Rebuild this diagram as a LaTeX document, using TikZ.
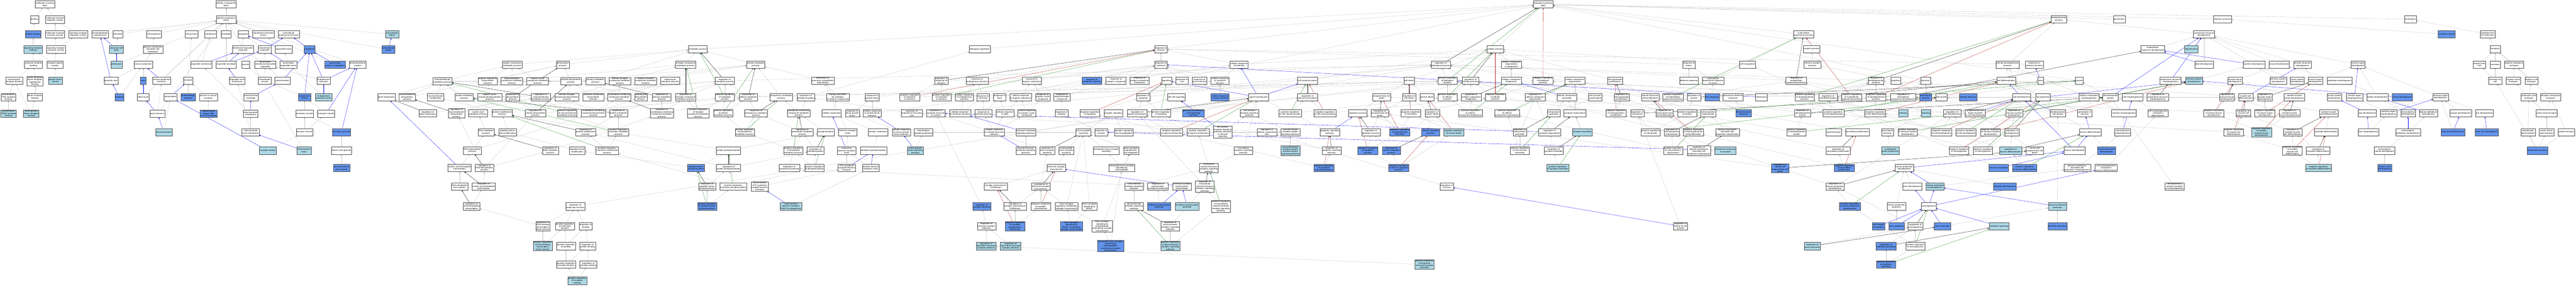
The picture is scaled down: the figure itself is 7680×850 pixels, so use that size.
\documentclass[tikz,border=0pt]{standalone}
\usepackage{fontspec}
\newfontfamily\gofam[FakeStretch=1.15]{Liberation Sans}
\usetikzlibrary{arrows.meta}
\definecolor{cblue}{HTML}{6495ED}
\definecolor{lblue}{HTML}{ADD8E6}
\definecolor{edgegray}{HTML}{C4C4C4}
\definecolor{fgreen}{HTML}{228B22}
\definecolor{fred}{HTML}{B22222}
\pgfdeclarelayer{bg}
\pgfsetlayers{bg,main}
\tikzset{go node/.style={rectangle,draw=black!70,line width=.6pt,fill=white,align=center,font=\gofam\fontsize{5.8}{6.8}\selectfont,inner xsep=1.5pt,inner ysep=1pt,minimum height=22pt},
dark node/.style={go node,fill=cblue},
light node/.style={go node,fill=lblue},
is a/.style={draw=edgegray,line width=.5pt,-{Triangle[length=4pt,width=3pt]}},
part of/.style={is a,draw=blue},
regulates/.style={is a,draw=black},
pos reg/.style={is a,draw=fgreen},
neg reg/.style={is a,draw=fred},
}

\begin{document}
\begin{tikzpicture}[x=1pt,y=-1pt]
\useasboundingbox (0,0) rectangle (7680,850);
% molecular function
\node[go node] (mf) at (134,13) {molecular\_function\\Bdnf};
\node[go node] (binding) at (103,58) {binding};
\node[go node] (mfreg) at (164,58) {molecular function\\regulator activity};
\node[dark node] (protbind) at (99,102) {protein binding};
\node[go node] (mfact) at (164,102) {molecular function\\activator activity};
\node[go node] (srreg) at (233,102) {signaling receptor\\regulator activity};
\node[light node] (srbind) at (99,147) {signaling receptor\\binding};
\node[go node] (sract) at (167,147) {signaling receptor\\activator activity};
\node[go node] (cytok) at (100,192) {cytokine receptor\\binding};
\node[go node] (rla) at (164,192) {receptor ligand\\activity};
\node[go node] (ntrb) at (42,240) {neurotrophin\\receptor binding};
\node[go node] (tnf) at (104,241) {tumor necrosis\\factor receptor\\superfamily\\binding};
\node[light node] (gfa) at (165,240) {growth factor\\activity};
\node[go node] (trk) at (25,289) {neurotrophin\\TRK receptor\\binding};
\node[go node] (drb) at (104,289) {death receptor\\binding};
\node[light node] (trkb) at (25,338) {neurotrophin\\TRKB receptor\\binding};
\node[light node] (ngfrb) at (93,338) {nerve growth\\factor receptor\\binding};
% cellular component
\node[go node] (cc) at (674,13) {cellular\_component\\Bdnf};
\node[go node] (cae) at (674,58) {cellular anatomical\\entity};
\node[go node] (sdc) at (298,102) {somatodendritic\\compartment};
\node[go node] (cbody) at (351,102) {cell body};
\node[go node] (cproj) at (459,102) {cell projection};
\node[go node] (cjunc) at (571,102) {cell junction};
\node[go node] (memb) at (628,102) {membrane};
\node[go node] (env) at (674,102) {envelope};
\node[go node] (org) at (725,102) {organelle};
\node[go node] (mel) at (785,102) {membrane-enclosed\\lumen};
\node[go node] (ias) at (861,102) {intracellular\\anatomical structure};
\node[light node] (ecr) at (1169,102) {extracellular\\region};
\node[light node] (ncb) at (347,147) {neuronal cell\\body};
\node[go node] (pmbcp) at (456,147) {plasma membrane\\bounded cell\\projection};
\node[go node] (mbo) at (724,147) {membrane-bounded\\organelle};
\node[go node] (io) at (789,147) {intracellular\\organelle};
\node[go node] (ol) at (846,147) {organelle lumen};
\node[dark node] (cyto) at (923,147) {cytoplasm};
\node[dark node] (ecs) at (1158,147) {extracellular\\space};
\node[light node] (peri) at (347,192) {perikaryon};
\node[go node] (nproj) at (427,192) {neuron projection};
\node[go node] (orgmem) at (600,192) {organelle membrane};
\node[go node] (orgenv) at (674,192) {organelle envelope};
\node[go node] (vesicle) at (732,192) {vesicle};
\node[go node] (imbo) at (791,192) {intracellular\\membrane-bounded\\organelle};
\node[go node] (iol) at (860,192) {intracellular\\organelle lumen};
\node[dark node] (prc) at (999,192) {perinuclear\\region of cytoplasm};
\node[go node] (ems) at (1066,192) {endomembrane\\system};
\node[go node] (dtree) at (331,240) {dendritic tree};
\node[dark node] (axon) at (427,240) {axon};
\node[go node] (npt) at (482,240) {neuron projection\\terminus};
\node[go node] (synapse) at (561,240) {synapse};
\node[go node] (oim) at (707,240) {organelle inner\\membrane};
\node[go node] (iv) at (789,240) {intracellular\\vesicle};
\node[go node] (mito) at (842,240) {mitochondrion};
\node[go node] (er) at (965,240) {endoplasmic\\reticulum};
\node[dark node] (dendrite) at (356,289) {dendrite};
\node[go node] (daxon) at (427,289) {distal axon};
\node[go node] (presyn) at (508,289) {presynapse};
\node[dark node] (glut) at (561,289) {glutamatergic\\synapse};
\node[go node] (n2n) at (621,289) {neuron to neuron\\synapse};
\node[go node] (mitoenv) at (748,289) {mitochondrial\\envelope};
\node[dark node] (cv) at (908,289) {cytoplasmic\\vesicle};
\node[light node] (erl) at (965,289) {endoplasmic\\reticulum lumen};
\node[go node] (axterm) at (469,338) {axon terminus};
\node[dark node] (hmf) at (622,338) {hippocampal\\mossy fiber\\to CA3 synapse};
\node[go node] (mitomem) at (747,338) {mitochondrial\\membrane};
\node[go node] (secv) at (908,338) {secretory vesicle};
\node[go node] (tv) at (972,338) {transport vesicle};
\node[light node] (tbouton) at (489,393) {terminal bouton};
\node[go node] (mim) at (747,393) {mitochondrial\\inner membrane};
\node[go node] (exov) at (908,393) {exocytic vesicle};
\node[dark node] (secg) at (1018,393) {secretory granule};
\node[light node] (synves) at (798,448) {synaptic vesicle};
\node[light node] (crista) at (906,448) {mitochondrial\\crista};
\node[go node] (dcg) at (1018,448) {dense core granule};
\node[dark node] (ndcv) at (1018,500) {neuronal dense\\core vesicle};
% biological process: metabolism
\node[go node] (osmp) at (1527,192) {organic substance\\metabolic process};
\node[go node] (biosyn) at (1678,192) {biosynthetic\\process};
\node[go node] (mmp) at (1319,241) {macromolecule\\metabolic process};
\node[go node] (osbp) at (1454,241) {organic substance\\biosynthetic\\process};
\node[go node] (onmp) at (1526,241) {organonitrogen\\compound metabolic\\process};
\node[go node] (occmp) at (1603,241) {organic cyclic\\compound metabolic\\process};
\node[go node] (cbp) at (1702,241) {cellular biosynthetic\\process};
\node[go node] (pmp) at (1775,241) {primary metabolic\\process};
\node[go node] (cncmp) at (1848,241) {cellular nitrogen\\compound metabolic\\process};
\node[go node] (acmp) at (1925,241) {cellular aromatic\\compound metabolic\\process};
\node[go node] (ge) at (1152,289) {gene expression};
\node[go node] (mbp) at (1214,289) {macromolecule\\biosynthetic\\process};
\node[go node] (mmod) at (1298,289) {macromolecule\\modification};
\node[go node] (pmetp) at (1384,289) {protein metabolic\\process};
\node[go node] (occbp) at (1460,289) {organic cyclic\\compound biosynthetic\\process};
\node[go node] (rbiosyn) at (1529,289) {regulation of\\biosynthetic\\process};
\node[go node] (rmmp) at (1613,289) {regulation of\\macromolecule\\metabolic process};
\node[go node] (cncbp) at (1690,289) {cellular nitrogen\\compound biosynthetic\\process};
\node[go node] (acbp) at (1769,289) {aromatic compound\\biosynthetic\\process};
\node[go node] (nbcmp) at (1846,289) {nucleobase-containing\\compound metabolic\\process};
\node[go node] (hbp) at (1911,289) {heterocycle\\biosynthetic\\process};
\node[go node] (rge) at (1275,337) {regulation of\\gene expression};
\node[go node] (rmbp) at (1361,337) {regulation of\\macromolecule\\biosynthetic\\process};
\node[go node] (nuamp) at (1425,337) {nucleic acid\\metabolic process};
\node[go node] (pmodp) at (1497,337) {protein modification\\process};
\node[go node] (rcbp) at (1596,337) {regulation of\\cellular biosynthetic\\process};
\node[go node] (pormmp) at (1691,337) {positive regulation\\of macromolecule\\metabolic process};
\node[go node] (nbcbp) at (1769,337) {nucleobase-containing\\compound biosynthetic\\process};
\node[go node] (rpmp) at (1844,337) {regulation of\\protein metabolic\\process};
\node[go node] (rnamp) at (1449,393) {RNA metabolic\\process};
\node[go node] (pamm) at (1513,393) {peptidyl-amino\\acid modification};
\node[go node] (rpmodp) at (1746,393) {regulation of\\protein modification\\process};
\node[go node] (porpmp) at (1844,393) {positive regulation\\of protein metabolic\\process};
\node[go node] (rnabp) at (1408,448) {RNA biosynthetic\\process};
\node[go node] (rrnamp) at (1641,448) {regulation of\\RNA metabolic\\process};
\node[go node] (psm) at (1721,448) {peptidyl-serine\\modification};
\node[go node] (porpmodp) at (1810,448) {positive regulation\\of protein modification\\process};
\node[go node] (natt) at (1370,500) {nucleic acid-templated\\transcription};
\node[go node] (rrnabp) at (1444,500) {regulation of\\RNA biosynthetic\\process};
\node[go node] (dtt) at (1370,555) {DNA-templated\\transcription};
\node[go node] (rnatt) at (1442,555) {regulation of\\nucleic acid-templated\\transcription};
\node[go node] (rdtt) at (1406,614) {regulation of\\DNA-templated\\transcription};
\node[go node] (rmf) at (1715,614) {regulation of\\molecular function};
\node[go node] (rdbtfa) at (1618,673) {regulation of\\DNA-binding\\transcription\\factor activity};
\node[go node] (pormf) at (1684,673) {positive regulation\\of molecular\\function};
\node[go node] (rbind) at (1746,673) {regulation of\\binding};
\node[light node] (pordbtfa) at (1618,732) {positive regulation\\of DNA-binding\\transcription\\factor activity};
\node[go node] (porbind) at (1687,732) {positive regulation\\of binding};
\node[go node] (rpbind) at (1752,732) {regulation of\\protein binding};
\node[go node] (porpbind) at (1687,787) {positive regulation\\of protein binding};
\node[go node] (rrbind) at (1754,787) {regulation of\\receptor binding};
\node[light node] (porrbind) at (1721,835) {positive regulation\\of receptor\\binding};
\node[go node] (mp) at (2080,146) {metabolic process};
\node[go node] (ncmp) at (2044,192) {nitrogen compound\\metabolic process};
\node[go node] (cmp) at (2253,192) {cellular metabolic\\process};
\node[go node] (hmp) at (1998,240) {heterocycle\\metabolic process};
\node[go node] (rmp) at (2161,240) {regulation of\\metabolic process};
\node[go node] (gpme) at (2453,240) {generation of\\precursor metabolites\\and energy};
\node[go node] (rprimp) at (1973,289) {regulation of\\primary metabolic\\process};
\node[go node] (rncmp) at (2044,289) {regulation of\\nitrogen compound\\metabolic process};
\node[go node] (pormp) at (2161,289) {positive regulation\\of metabolic\\process};
\node[go node] (rcmp) at (2231,289) {regulation of\\cellular metabolic\\process};
\node[go node] (phmp) at (2329,289) {phosphorus metabolic\\process};
\node[go node] (rbq) at (2402,289) {regulation of\\biological quality};
\node[go node] (edoc) at (2498,289) {energy derivation\\by oxidation\\of organic compounds};
\node[go node] (rgf) at (2600,289) {response to\\growth factor};
\node[go node] (rnbcmp) at (1973,337) {regulation of\\nucleobase-containing\\compound metabolic\\process};
\node[go node] (porncmp) at (2082,337) {positive regulation\\of nitrogen\\compound metabolic\\process};
\node[go node] (porcmp) at (2156,337) {positive regulation\\of cellular\\metabolic process};
\node[go node] (rphmp) at (2254,337) {regulation of\\phosphorus metabolic\\process};
\node[go node] (pcmp) at (2381,337) {phosphate-containing\\compound metabolic\\process};
\node[go node] (cresp) at (2479,337) {cellular respiration};
\node[go node] (rngf) at (2541,337) {response to\\nerve growth\\factor};
\node[go node] (crgf) at (2600,337) {cellular response\\to growth factor\\stimulus};
\node[go node] (porphmp) at (2220,393) {positive regulation\\of phosphorus\\metabolic process};
\node[go node] (rpcmp) at (2392,393) {regulation of\\phosphate metabolic\\process};
\node[go node] (phos) at (2462,393) {phosphorylation};
\node[go node] (etc) at (2527,393) {electron transport\\chain};
\node[go node] (aresp) at (2618,393) {aerobic respiration};
\node[go node] (pphos) at (2172,448) {protein phosphorylation};
\node[go node] (porpcmp) at (2365,448) {positive regulation\\of phosphate\\metabolic process};
\node[go node] (rphos) at (2431,448) {regulation of\\phosphorylation};
\node[go node] (retc) at (2524,448) {respiratory\\electron transport\\chain};
\node[go node] (oxphos) at (2604,448) {oxidative phosphorylation};
\node[dark node] (pserphos) at (2075,500) {peptidyl-serine\\phosphorylation};
\node[go node] (rpphos) at (2172,500) {regulation of\\protein phosphorylation};
\node[go node] (rmpot) at (2353,500) {regulation of\\membrane potential};
\node[go node] (porphos) at (2428,500) {positive regulation\\of phosphorylation};
\node[go node] (atpset) at (2524,500) {ATP synthesis\\coupled electron\\transport};
\node[go node] (aetc) at (2596,500) {aerobic electron\\transport chain};
\node[go node] (rpserphos) at (2108,555) {regulation of\\peptidyl-serine\\phosphorylation};
\node[go node] (porpphos) at (2186,555) {positive regulation\\of protein phosphorylation};
\node[go node] (matpset) at (2265,555) {mitochondrial\\ATP synthesis\\coupled electron\\transport};
\node[dark node] (porpserphos) at (2108,614) {positive regulation\\of peptidyl-serine\\phosphorylation};
\node[light node] (metnu) at (2358,614) {mitochondrial\\electron transport,\\NADH to ubiquinone};
% biological process: response and signaling
\node[go node] (breg) at (2921,146) {biological regulation};
\node[go node] (rrs) at (2806,240) {regulation of\\response to\\stimulus};
\node[go node] (res) at (2913,240) {response to\\endogenous stimulus};
\node[go node] (ros) at (3076,240) {response to\\organic substance};
\node[dark node] (rxs) at (3255,240) {response to\\xenobiotic stimulus};
\node[go node] (rnc) at (3327,240) {response to\\nitrogen compound};
\node[go node] (nrrs) at (2712,289) {negative regulation\\of response\\to stimulus};
\node[go node] (porrs) at (2807,289) {positive regulation\\of response\\to stimulus};
\node[go node] (cres) at (2875,289) {cellular response\\to endogenous\\stimulus};
\node[go node] (rhorm) at (2931,289) {response to\\hormone};
\node[go node] (rlipid) at (2980,289) {response to\\lipid};
\node[go node] (cros) at (3043,289) {cellular response\\to organic substance};
\node[go node] (rocc) at (3109,289) {response to\\organic cyclic\\compound};
\node[go node] (roc) at (3166,289) {response to\\organonitrogen\\compound};
\node[go node] (ras) at (2718,337) {regulation of\\anatomical structure\\size};
\node[go node] (rssa) at (2790,337) {regulation of\\synapse structure\\or activity};
\node[go node] (crhs) at (2862,337) {cellular response\\to hormone stimulus};
\node[go node] (rsh) at (2932,337) {response to\\steroid hormone};
\node[go node] (crl) at (2996,337) {cellular response\\to lipid};
\node[go node] (crocc) at (3061,337) {cellular response\\to organic cyclic\\compound};
\node[go node] (ralk) at (3165,337) {response to\\alkaloid};
\node[go node] (nrsig) at (3249,337) {negative regulation\\of signaling};
\node[go node] (synsig) at (3319,337) {synaptic signaling};
\node[go node] (crngf) at (2687,393) {cellular response\\to nerve growth\\factor stimulus};
\node[go node] (ntsp) at (2753,393) {neurotrophin\\signaling pathway};
\node[go node] (crshs) at (2964,393) {cellular response\\to steroid hormone\\stimulus};
\node[go node] (hmsp) at (3058,393) {hormone-mediated\\signaling pathway};
\node[go node] (tss) at (3230,393) {trans-synaptic\\signaling};
\node[go node] (rcoc) at (3283,393) {response to\\cocaine};
\node[go node] (sigvn) at (3350,393) {synaptic signaling\\via neuropeptide};
\node[light node] (ngfsp) at (2729,448) {nerve growth\\factor signaling\\pathway};
\node[go node] (shmsp) at (3058,448) {steroid hormone\\mediated signaling\\pathway};
\node[go node] (rtss) at (3122,448) {regulation of\\trans-synaptic\\signaling};
\node[go node] (atss) at (3179,448) {anterograde\\trans-synaptic\\signaling};
\node[go node] (retss) at (3298,448) {retrograde trans-synaptic\\signaling};
\node[go node] (tssn) at (3372,448) {trans-synaptic\\signaling by\\neuropeptide};
\node[go node] (cst) at (3149,500) {chemical synaptic\\transmission};
\node[go node] (rtssn) at (3344,500) {retrograde trans-synaptic\\signaling by\\neuropeptide};
\node[go node] (stg) at (2969,555) {synaptic transmission,\\GABAergic};
\node[go node] (mcst) at (3103,555) {modulation of\\chemical synaptic\\transmission};
\node[go node] (crsp) at (3381,555) {corticosteroid\\receptor signaling\\pathway};
\node[dark node] (rsplast) at (2927,614) {regulation of\\synaptic plasticity};
\node[go node] (rstg) at (3026,614) {regulation of\\synaptic transmission,\\GABAergic};
\node[go node] (nrst) at (3103,614) {negative regulation\\of synaptic\\transmission};
\node[go node] (tssmst) at (3180,614) {trans-synaptic\\signaling, modulating\\synaptic transmission};
\node[go node] (tssbdnf) at (3248,614) {trans-synaptic\\signaling by\\BDNF};
\node[go node] (grsp) at (3381,614) {glucocorticoid\\receptor signaling\\pathway};
\node[go node] (rnsp) at (2941,673) {regulation of\\neuronal synaptic\\plasticity};
\node[dark node] (nrstg) at (3026,673) {negative regulation\\of synaptic\\transmission,\\GABAergic};
\node[dark node] (tssbdnfm) at (3194,673) {trans-synaptic\\signaling by\\BDNF, modulating\\synaptic transmission};
\node[go node] (tssnm) at (3286,673) {trans-synaptic\\signaling by\\neuropeptide,\\modulating synaptic\\transmission};
\node[light node] (rltnsp) at (2940,732) {regulation of\\long-term neuronal\\synaptic plasticity};
\node[light node] (rstnsp) at (3013,732) {regulation of\\short-term neuronal\\synaptic plasticity};
\node[dark node] (rtssnm) at (3311,732) {retrograde trans-synaptic\\signaling by\\neuropeptide,\\modulating synaptic\\transmission};
\node[go node] (rstim) at (3461,146) {response to\\stimulus};
\node[go node] (rchem) at (3461,192) {response to\\chemical};
\node[go node] (crs) at (3694,192) {cellular response\\to stimulus};
\node[go node] (rocc2) at (3397,240) {response to\\oxygen-containing\\compound};
\node[go node] (sig) at (3478,240) {signaling};
\node[go node] (rsalt) at (3524,240) {response to\\salt};
\node[go node] (racid) at (3576,240) {response to\\acid chemical};
\node[go node] (crcs) at (3637,240) {cellular response\\to chemical\\stimulus};
\node[go node] (ccomm) at (3898,240) {cell communication};
\node[go node] (rsig) at (3408,289) {regulation of\\signaling};
\node[go node] (ccsig) at (3507,289) {cell-cell signaling};
\node[dark node] (cracid) at (3637,289) {cellular response\\to acid chemical};
\node[go node] (st) at (3752,289) {signal transduction};
\node[go node] (rccomm) at (3898,289) {regulation of\\cell communication};
\node[go node] (rst) at (3390,337) {regulation of\\signal transduction};
\node[go node] (porsig) at (3461,337) {positive regulation\\of signaling};
\node[dark node] (gabasp) at (3558,337) {gamma-aminobutyric\\acid signaling\\pathway};
\node[go node] (csrsp) at (3725,337) {cell surface\\receptor signaling\\pathway};
\node[go node] (porccomm) at (3846,337) {positive regulation\\of cell communication};
\node[go node] (nrccomm) at (3950,337) {negative regulation\\of cell communication};
\node[go node] (apop) at (4048,337) {apoptotic process};
\node[go node] (nrst2) at (3493,393) {negative regulation\\of signal transduction};
\node[go node] (porst) at (3572,393) {positive regulation\\of signal transduction};
\node[go node] (csrspccs) at (3645,393) {cell surface\\receptor signaling\\pathway involved\\in cell-cell\\signaling};
\node[go node] (rccs) at (3777,393) {regulation of\\cellular component\\size};
\node[go node] (elrpsp) at (3847,393) {enzyme-linked\\receptor protein\\signaling pathway};
\node[go node] (apsp) at (3964,393) {apoptotic signaling\\pathway};
\node[go node] (rap) at (4087,393) {regulation of\\apoptotic process};
\node[go node] (ircsp) at (3707,448) {intracellular\\receptor signaling\\pathway};
\node[light node] (trptksp) at (3847,448) {transmembrane\\receptor protein\\tyrosine kinase\\signaling pathway};
\node[go node] (rapsp) at (3970,448) {regulation of\\apoptotic signaling\\pathway};
\node[dark node] (nrap) at (4078,448) {negative regulation\\of apoptotic\\process};
\node[go node] (ishrsp) at (3604,500) {intracellular\\steroid hormone\\receptor signaling\\pathway};
\node[dark node] (nrapsp) at (3947,500) {negative regulation\\of apoptotic\\signaling pathway};
\node[go node] (rpmp2) at (3452,555) {regulation of\\postsynaptic\\membrane potential};
\node[go node] (cstp) at (3524,555) {chemical synaptic\\transmission,\\postsynaptic};
\node[go node] (rishrsp) at (3592,555) {regulation of\\intracellular\\steroid hormone\\receptor signaling\\pathway};
\node[dark node] (ipsp) at (3456,614) {inhibitory postsynaptic\\potential};
\node[light node] (epsp) at (3539,614) {excitatory postsynaptic\\potential};
\node[go node] (porishrsp) at (3640,614) {positive regulation\\of intracellular\\steroid hormone\\receptor signaling\\pathway};
\node[go node] (rgrsp) at (3489,673) {regulation of\\glucocorticoid\\receptor signaling\\pathway};
\node[light node] (porgrsp) at (3489,732) {positive regulation\\of glucocorticoid\\receptor signaling\\pathway};
% biological process: cellular process
\node[go node] (bp) at (4601,13) {biological\_process\\Bdnf};
\node[go node] (cp) at (4458,146) {cellular process};
\node[go node] (rbp) at (4296,192) {regulation of\\biological process};
\node[go node] (ccob) at (4506,192) {cellular component\\organization\\or biogenesis};
\node[go node] (cdeath) at (4201,240) {cell death};
\node[go node] (porbp) at (4315,240) {positive regulation\\of biological\\process};
\node[go node] (rcp) at (4384,240) {regulation of\\cellular process};
\node[go node] (ccb) at (4506,240) {cellular component\\biogenesis};
\node[go node] (nrbp) at (4600,240) {negative regulation\\of biological\\process};
\node[go node] (cco) at (4695,240) {cellular component\\organization};
\node[go node] (cpp) at (4815,240) {cell population\\proliferation};
\node[go node] (pcd) at (4119,289) {programmed cell\\death};
\node[go node] (rcd) at (4201,289) {regulation of\\cell death};
\node[go node] (ndeath) at (4254,289) {neuron death};
\node[go node] (porcp) at (4315,289) {positive regulation\\of cellular\\process};
\node[go node] (rccb) at (4386,289) {regulation of\\cellular component\\biogenesis};
\node[go node] (nrcp) at (4458,289) {negative regulation\\of cellular\\process};
\node[go node] (rcco) at (4577,289) {regulation of\\cellular component\\organization};
\node[go node] (cca) at (4671,289) {cellular component\\assembly};
\node[go node] (cjo) at (4756,289) {cell junction\\organization};
\node[go node] (rcpp) at (4835,289) {regulation of\\cell population\\proliferation};
\node[go node] (rpcd) at (4114,337) {regulation of\\programmed cell\\death};
\node[go node] (nrcd) at (4206,337) {negative regulation\\of cell death};
\node[go node] (rnd) at (4270,337) {regulation of\\neuron death};
\node[go node] (porccb) at (4384,337) {positive regulation\\of cellular\\component biogenesis};
\node[go node] (porcco) at (4493,337) {positive regulation\\of cellular\\component organization};
\node[go node] (cja) at (4632,337) {cell junction\\assembly};
\node[go node] (so) at (4695,337) {synapse organization};
\node[go node] (nrcpp) at (4818,337) {negative regulation\\of cell population\\proliferation};
\node[go node] (rcg) at (4881,337) {regulation of\\cell growth};
\node[dark node] (nrpcd) at (4173,393) {negative regulation\\of programmed\\cell death};
\node[dark node] (nap) at (4265,393) {neuron apoptotic\\process};
\node[light node] (nrnd) at (4334,393) {negative regulation\\of neuron death};
\node[go node] (rcja) at (4531,393) {regulation of\\cell junction\\assembly};
\node[go node] (rso) at (4620,393) {regulation of\\synapse organization};
\node[light node] (sa) at (4717,393) {synapse assembly};
\node[dark node] (rnap) at (4148,448) {regulation of\\neuron apoptotic\\process};
\node[go node] (porcja) at (4531,448) {positive regulation\\of cell junction\\assembly};
\node[go node] (rsa) at (4632,448) {regulation of\\synapse assembly};
\node[dark node] (nrnap) at (4170,500) {negative regulation\\of neuron apoptotic\\process};
\node[light node] (porsa) at (4644,500) {positive regulation\\of synapse assembly};
\node[go node] (rcsize) at (4313,555) {regulation of\\cell size};
\node[light node] (porltnsp) at (4247,787) {positive regulation\\of long-term\\neuronal synaptic\\plasticity};
% biological process: multicellular and growth
\node[go node] (mop) at (5377,102) {multicellular\\organismal process};
\node[go node] (sysp) at (5401,146) {system process};
\node[go node] (rstress) at (5035,192) {response to\\stress};
\node[go node] (crecog) at (5210,192) {cell recognition};
\node[go node] (nsp) at (5403,192) {nervous system\\process};
\node[go node] (defr) at (5035,240) {defense response};
\node[go node] (mors) at (5107,240) {multicellular\\organismal response\\to stress};
\node[go node] (rmop) at (5355,240) {regulation of\\multicellular\\organismal process};
\node[go node] (npcp) at (4920,289) {neural precursor\\cell proliferation};
\node[go node] (pormop) at (4988,289) {positive regulation\\of multicellular\\organismal process};
\node[go node] (rgrowth) at (5050,289) {regulation of\\growth};
\node[dark node] (fear) at (5104,289) {fear response};
\node[go node] (bdr) at (5167,289) {behavioral defense\\response};
\node[go node] (chemotaxis) at (5251,289) {chemotaxis};
\node[go node] (pordp) at (5380,289) {positive regulation\\of developmental\\process};
\node[go node] (rcdiff) at (5450,289) {regulation of\\cell differentiation};
\node[go node] (nrmop) at (5520,289) {negative regulation\\of multicellular\\organismal process};
\node[go node] (rnpcp) at (4962,337) {regulation of\\neural precursor\\cell proliferation};
\node[go node] (porgrowth) at (5030,337) {positive regulation\\of growth};
\node[go node] (cpo) at (5093,337) {cell projection\\organization};
\node[dark node] (bfr) at (5198,337) {behavioral fear\\response};
\node[go node] (rdg) at (5374,337) {regulation of\\developmental\\growth};
\node[go node] (porcdiff) at (5466,337) {positive regulation\\of cell differentiation};
\node[go node] (porcg) at (4921,393) {positive regulation\\of cell growth};
\node[go node] (rcpo) at (4984,393) {regulation of\\cell projection\\organization};
\node[go node] (nrnpcp) at (5048,393) {negative regulation\\of neural precursor\\cell proliferation};
\node[go node] (pmbcpo) at (5150,393) {plasma membrane\\bounded cell\\projection organization};
\node[go node] (pordg) at (5356,393) {positive regulation\\of developmental\\growth};
\node[go node] (adultb) at (5467,393) {adult behavior};
\node[go node] (nbp) at (5537,393) {neuroblast proliferation};
\node[go node] (porcpo) at (4988,448) {positive regulation\\of cell projection\\organization};
\node[go node] (rpmbcpo) at (5065,448) {regulation of\\plasma membrane\\bounded cell\\projection organization};
\node[light node] (brcoc) at (5144,448) {behavioral response\\to cocaine};
\node[go node] (rnbp) at (5480,448) {regulation of\\neuroblast proliferation};
\node[dark node] (rrcpcd) at (5307,500) {regulation of\\retinal cell\\programmed cell\\death};
\node[dark node] (nrnbp) at (5498,500) {negative regulation\\of neuroblast\\proliferation};
\node[go node] (rnpd) at (5471,555) {regulation of\\neuron projection\\development};
\node[dark node] (pornpd) at (5515,614) {positive regulation\\of neuron projection\\development};
\node[go node] (recg) at (5010,673) {regulation of\\extent of cell\\growth};
\node[light node] (raxe) at (5403,732) {regulation of\\axon extension};
% biological process: development
\node[go node] (dp) at (6138,57) {developmental\\process};
\node[go node] (cdp) at (5985,192) {cellular developmental\\process};
\node[go node] (rext) at (6065,192) {response to\\external stimulus};
\node[go node] (rdp) at (5593,240) {regulation of\\developmental\\process};
\node[go node] (cognition) at (5652,240) {cognition};
\node[go node] (behavior) at (5741,240) {behavior};
\node[go node] (cdiff) at (5981,240) {cell differentiation};
\node[go node] (taxis) at (6084,240) {taxis};
\node[go node] (growth) at (6199,240) {growth};
\node[go node] (nrdp) at (5593,289) {negative regulation\\of developmental\\process};
\node[go node] (rmod) at (5674,289) {regulation of\\multicellular\\organismal development};
\node[dark node] (lom) at (5741,289) {learning or\\memory};
\node[go node] (cgrowth) at (5788,289) {cell growth};
\node[dark node] (feed) at (5868,289) {feeding behavior};
\node[go node] (cdev) at (6027,289) {cell development};
\node[go node] (neurog) at (6091,289) {neurogenesis};
\node[go node] (ccm) at (6228,289) {cellular component\\morphogenesis};
\node[go node] (nrcdiff) at (5590,337) {negative regulation\\of cell differentiation};
\node[light node] (memory) at (5674,337) {memory};
\node[light node] (learning) at (5742,337) {learning};
\node[go node] (rcdev) at (5820,337) {regulation of\\cell development};
\node[go node] (pcdcd) at (5889,337) {programmed cell\\death involved\\in cell development};
\node[go node] (rnsd) at (6005,337) {regulation of\\nervous system\\development};
\node[go node] (dcg2) at (6135,337) {developmental\\cell growth};
\node[go node] (gon) at (6215,337) {generation of\\neurons};
\node[go node] (al) at (5627,393) {associative\\learning};
\node[go node] (pornsd) at (5687,393) {positive regulation\\of nervous system\\development};
\node[go node] (nrcdev) at (5788,393) {negative regulation\\of cell development};
\node[go node] (porcdev) at (5861,393) {positive regulation\\of cell development};
\node[go node] (nrnsd) at (5934,393) {negative regulation\\of nervous system\\development};
\node[go node] (rneurog) at (5998,393) {regulation of\\neurogenesis};
\node[go node] (ndiff) at (6232,393) {neuron differentiation};
\node[light node] (cpp2) at (5636,448) {conditioned\\place preference};
\node[go node] (nrneurog) at (5840,448) {negative regulation\\of neurogenesis};
\node[go node] (porneurog) at (5912,448) {positive regulation\\of neurogenesis};
\node[light node] (rnd2) at (5994,448) {regulation of\\neuron differentiation};
\node[go node] (rcpcd) at (6066,448) {retinal cell\\programmed cell\\death};
\node[go node] (ndev) at (6185,448) {neuron development};
\node[go node] (npd) at (5677,500) {neuron projection\\development};
\node[dark node] (nrecog) at (5959,500) {neuron recognition};
\node[dark node] (porndiff) at (6036,500) {positive regulation\\of neuron differentiation};
\node[go node] (pmbcpm) at (6193,500) {plasma membrane\\bounded cell\\projection morphogenesis};
\node[go node] (axdev) at (5701,555) {axon development};
\node[light node] (npm) at (5769,555) {neuron projection\\morphogenesis};
\node[dark node] (ddev) at (5977,555) {dendrite development};
\node[go node] (npg) at (5654,614) {neuron projection\\guidance};
\node[go node] (axonogenesis) at (5750,614) {axonogenesis};
\node[light node] (npe) at (6134,614) {neuron projection\\extension};
\node[dark node] (atr) at (5600,673) {axon target\\recognition};
\node[dark node] (ag) at (5654,673) {axon guidance};
\node[go node] (raxg) at (5710,673) {regulation of\\axonogenesis};
\node[dark node] (axe) at (5791,673) {axon extension};
\node[light node] (cs) at (5960,673) {collateral sprouting};
\node[dark node] (dext) at (6134,673) {dendrite extension};
\node[dark node] (rcs) at (5623,732) {regulation of\\collateral sprouting};
\node[go node] (poraxg) at (5710,732) {positive regulation\\of axonogenesis};
\node[dark node] (porcs) at (5623,787) {positive regulation\\of collateral\\sprouting};
\node[go node] (locom) at (6318,57) {locomotion};
\node[go node] (rhythm) at (6626,57) {rhythmic process};
\node[go node] (asd) at (6571,102) {anatomical structure\\development};
\node[light node] (regen) at (6533,146) {regeneration};
\node[go node] (mod) at (6418,146) {multicellular\\organism development};
\node[go node] (tubed) at (6571,192) {tube development};
\node[go node] (sysdev) at (6720,192) {system development};
\node[go node] (tissd) at (6795,192) {tissue development};
\node[go node] (msd) at (6864,192) {muscle structure\\development};
\node[go node] (asm) at (6471,240) {anatomical structure\\morphogenesis};
\node[light node] (nsd) at (6541,240) {nervous system\\development};
\node[go node] (mtd) at (6663,240) {muscle tissue\\development};
\node[go node] (ssd) at (6792,240) {sensory system\\development};
\node[go node] (rsd) at (6849,240) {renal system\\development};
\node[go node] (mod2) at (6903,240) {muscle organ\\development};
\node[go node] (epith) at (6975,240) {epithelium development};
\node[go node] (devgrowth) at (6292,289) {developmental\\growth};
\node[go node] (cm) at (6358,289) {cell morphogenesis};
\node[go node] (rasm) at (6433,289) {regulation of\\anatomical structure\\morphogenesis};
\node[go node] (rmtd) at (6639,289) {regulation of\\muscle tissue\\development};
\node[go node] (mcd) at (6695,289) {muscle cell\\differentiation};
\node[go node] (rmod2) at (6752,289) {regulation of\\muscle organ\\development};
\node[go node] (smtd) at (6840,289) {striated muscle\\tissue development};
\node[go node] (visual) at (6960,289) {visual system\\development};
\node[go node] (cpm) at (6332,337) {cell part morphogenesis};
\node[go node] (cmid) at (6434,337) {cell morphogenesis\\involved in\\differentiation};
\node[go node] (nrmtd) at (6600,337) {negative regulation\\of muscle tissue\\development};
\node[go node] (rmcd) at (6688,337) {regulation of\\muscle cell\\differentiation};
\node[go node] (nrmod) at (6752,337) {negative regulation\\of muscle organ\\development};
\node[go node] (rsmtd) at (6826,337) {regulation of\\striated muscle\\tissue development};
\node[go node] (smcd) at (6943,337) {striated muscle\\cell differentiation};
\node[go node] (cpmorph) at (6328,393) {cell projection\\morphogenesis};
\node[go node] (nrmcd) at (6659,393) {negative regulation\\of muscle cell\\differentiation};
\node[light node] (nrsmtd) at (6742,393) {negative regulation\\of striated\\muscle tissue\\development};
\node[go node] (rsmcd) at (6835,393) {regulation of\\striated muscle\\cell differentiation};
\node[go node] (myod) at (6935,393) {myotube differentiation};
\node[dark node] (mrd) at (6280,448) {mechanoreceptor\\differentiation};
\node[go node] (nrsmcd) at (6834,448) {negative regulation\\of striated\\muscle cell\\differentiation};
\node[go node] (rmyod) at (6911,448) {regulation of\\myotube differentiation};
\node[go node] (cmind) at (6279,500) {cell morphogenesis\\involved in\\neuron differentiation};
\node[light node] (nrmyod) at (6912,500) {negative regulation\\of myotube differentiation};
\node[go node] (dgim) at (6483,555) {developmental\\growth involved\\in morphogenesis};
% biological process: organs and transport
\node[go node] (loc) at (7186,57) {localization};
\node[dark node] (circ) at (7294,102) {circadian rhythm};
\node[go node] (eol) at (7417,102) {establishment\\of localization};
\node[go node] (trans) at (7439,146) {transport};
\node[go node] (aod) at (7030,192) {animal organ\\development};
\node[go node] (efc) at (7392,192) {export from\\cell};
\node[go node] (secr) at (7439,192) {secretion};
\node[go node] (ost) at (7495,192) {organic substance\\transport};
\node[go node] (sbc) at (7439,240) {secretion by\\cell};
\node[go node] (oat) at (7493,240) {organic anion\\transport};
\node[go node] (oact) at (7547,240) {organic acid\\transport};
\node[go node] (aom) at (7020,289) {animal organ\\morphogenesis};
\node[go node] (kidd) at (7088,289) {kidney development};
\node[dark node] (nerved) at (7162,289) {nerve development};
\node[go node] (sod) at (7276,289) {sensory organ\\development};
\node[go node] (cat) at (7539,289) {carboxylic acid\\transport};
\node[go node] (nct) at (7604,289) {nitrogen compound\\transport};
\node[go node] (eyed) at (7058,337) {eye development};
\node[go node] (som) at (7121,337) {sensory organ\\morphogenesis};
\node[go node] (mesod) at (7179,337) {mesonephros\\development};
\node[go node] (ked) at (7240,337) {kidney epithelium\\development};
\node[go node] (tongued) at (7336,337) {tongue development};
\node[go node] (eard) at (7407,337) {ear development};
\node[go node] (aat) at (7592,337) {amino acid transport};
\node[go node] (eyem) at (7061,393) {eye morphogenesis};
\node[go node] (med) at (7179,393) {mesonephric\\epithelium development};
\node[dark node] (tbd) at (7313,393) {taste bud development};
\node[dark node] (ied) at (7414,393) {inner ear development};
\node[go node] (dat) at (7537,393) {dicarboxylic\\acid transport};
\node[go node] (aaat) at (7592,393) {acidic amino\\acid transport};
\node[go node] (amt) at (7651,393) {amide transport};
\node[go node] (mtd2) at (7109,448) {mesonephric\\tubule development};
\node[dark node] (gs) at (7565,448) {glutamate secretion};
\node[dark node] (ubd) at (7109,500) {ureteric bud\\development};

\begin{pgfonlayer}{bg}
\fill[white] (0,0) rectangle (7680,850);
\path[is a]
(binding) edge (mf) (mfreg) edge (mf) (protbind) edge (binding) (mfact) edge (mfreg) (srreg) edge (mfreg)
(srbind) edge (protbind) (sract) edge (mfact) (sract) edge (srreg) (cytok) edge (srbind) (rla) edge (srbind)
(rla) edge (sract) (ntrb) edge (cytok) (tnf) edge (cytok) (gfa) edge (rla) (trk) edge (ntrb) (drb) edge (tnf)
(trkb) edge (trk) (ngfrb) edge (ntrb) (ngfrb) edge (drb)
(cae) edge (cc) (sdc) edge (cae) (cbody) edge (cae) (cproj) edge (cae) (cjunc) edge (cae) (memb) edge (cae)
(env) edge (cae) (org) edge (cae) (mel) edge (cae) (ias) edge (cae) (ecr) edge (cae) (peri) edge (cae)
(daxon) edge (cae) (npt) edge (cae) (presyn) edge (cae) (prc) edge (cae) (ems) edge (cae) (ecs) edge (cae)
(crista) edge (cae) (ncb) edge (cbody) (pmbcp) edge (cproj) (nproj) edge (pmbcp) (dtree) edge (nproj)
(dendrite) edge (nproj) (axon) edge (nproj) (synapse) edge (cjunc) (orgmem) edge (memb) (orgenv) edge (env)
(vesicle) edge (mbo) (imbo) edge (mbo) (imbo) edge (io) (iol) edge (ol) (mbo) edge (org) (io) edge (org)
(ol) edge (mel) (axterm) edge (npt) (axterm) edge (presyn) (tbouton) edge (presyn) (glut) edge (synapse)
(n2n) edge (synapse) (hmf) edge (n2n) (mito) edge (imbo) (iv) edge (vesicle) (iv) edge (imbo) (er) edge (imbo)
(erl) edge (iol) (cv) edge (iv) (secv) edge (cv) (tv) edge (cv) (exov) edge (secv) (exov) edge (tv)
(secg) edge (secv) (mim) edge (mitomem) (mim) edge (oim) (mitoenv) edge (orgenv) (mitomem) edge (orgmem)
(synves) edge (exov) (dcg) edge (secg) (ndcv) edge (dcg);
\path[part of]
(ncb) edge (sdc) (peri) edge (ncb) (dtree) edge (sdc) (dendrite) edge (dtree) (daxon) edge (axon)
(npt) edge (nproj) (axterm) edge (daxon) (tbouton) edge (axterm) (presyn) edge (synapse) (synves) edge (presyn)
(orgmem) edge (mbo) (orgenv) edge (mbo) (orgenv) edge (io) (io) edge (ias) (ol) edge (org) (iol) edge (io)
(cyto) edge (ias) (prc) edge (cyto) (mito) edge (cyto) (cv) edge (cyto) (er) edge (cyto) (er) edge (ems)
(tv) edge (ems) (secg) edge (ems) (erl) edge (er) (oim) edge (orgenv) (mitoenv) edge (mito)
(mitomem) edge (mitoenv) (crista) edge (mim) (ecs) edge (ecr);
\path[is a]
(breg) edge (bp) (rstim) edge (bp) (mp) edge (bp) (cp) edge (bp) (mop) edge (bp) (dp) edge (bp)
(locom) edge (bp) (loc) edge (bp) (rhythm) edge (bp) (growth) edge (bp) (behavior) edge (bp) (sig) edge (bp)
(osmp) edge (mp) (pmp) edge (mp) (ncmp) edge (mp) (cmp) edge (mp) (biosyn) edge (mp) (osbp) edge (osmp)
(osbp) edge (biosyn) (onmp) edge (osmp) (onmp) edge (ncmp) (occmp) edge (osmp) (mmp) edge (osmp)
(mmp) edge (pmp) (cbp) edge (biosyn) (cbp) edge (cmp) (cncmp) edge (ncmp) (cncmp) edge (cmp) (acmp) edge (cmp)
(hmp) edge (occmp) (mmod) edge (mmp) (ge) edge (mmp) (mbp) edge (mmp) (mbp) edge (biosyn) (pmetp) edge (mmp)
(pmetp) edge (onmp) (occbp) edge (occmp) (occbp) edge (osbp) (cncbp) edge (cbp) (cncbp) edge (cncmp)
(acbp) edge (cbp) (acbp) edge (acmp) (nbcmp) edge (cncmp) (nbcmp) edge (hmp) (hbp) edge (hmp) (hbp) edge (cbp)
(rbiosyn) edge (rmp) (rmmp) edge (rmp) (rmbp) edge (rbiosyn) (rmbp) edge (rmmp) (nuamp) edge (nbcmp)
(nuamp) edge (mmp) (pmodp) edge (pmetp) (pmodp) edge (mmod) (rcbp) edge (rbiosyn) (rcbp) edge (rcmp)
(pormmp) edge (rmmp) (pormmp) edge (pormp) (nbcbp) edge (nbcmp) (nbcbp) edge (cncbp) (nbcbp) edge (hbp)
(rpmp) edge (rmmp) (rpmp) edge (rprimp) (rnamp) edge (nuamp) (pamm) edge (pmodp) (rpmodp) edge (rpmp)
(porpmp) edge (rpmp) (porpmp) edge (pormmp) (rnabp) edge (rnamp) (rnabp) edge (nbcbp) (rrnamp) edge (rnbcmp)
(psm) edge (pamm) (porpmodp) edge (rpmodp) (porpmodp) edge (porpmp) (natt) edge (rnabp) (rrnabp) edge (rrnamp)
(rrnabp) edge (rcbp) (rrnabp) edge (rmbp) (dtt) edge (natt) (rnatt) edge (rrnabp) (rdtt) edge (rnatt)
(rdbtfa) edge (rdtt) (rdbtfa) edge (rmf) (pormf) edge (rmf) (rbind) edge (rmf) (pordbtfa) edge (rdbtfa)
(pordbtfa) edge (pormf) (porbind) edge (pormf) (porbind) edge (rbind) (rpbind) edge (rbind)
(porpbind) edge (porbind) (porpbind) edge (rpbind) (rrbind) edge (rpbind) (porrbind) edge (porpbind)
(porrbind) edge (rrbind) (rmf) edge (rbp) (rge) edge (rmmp) (rmp) edge (rbp) (rprimp) edge (rmp)
(rncmp) edge (rmp) (pormp) edge (rmp) (pormp) edge (porbp) (rcmp) edge (rmp) (rcmp) edge (rcp)
(rnbcmp) edge (rprimp) (rnbcmp) edge (rcmp) (rnbcmp) edge (rncmp) (porncmp) edge (rncmp) (porncmp) edge (pormp)
(porcmp) edge (rcmp) (porcmp) edge (pormp) (phmp) edge (cmp) (rphmp) edge (rcmp) (pcmp) edge (phmp)
(porphmp) edge (rphmp) (porphmp) edge (porcmp) (rpcmp) edge (rphmp) (phos) edge (pcmp) (porpcmp) edge (rpcmp)
(porpcmp) edge (porphmp) (rphos) edge (rpcmp) (pphos) edge (phos) (pphos) edge (pmodp) (porphos) edge (rphos)
(porphos) edge (porpcmp) (pserphos) edge (psm) (pserphos) edge (pphos) (rpphos) edge (rphos) (rpphos) edge (rpmodp)
(porpphos) edge (rpphos) (porpphos) edge (porphos) (porpphos) edge (porpmodp) (rpserphos) edge (rpphos)
(porpserphos) edge (rpserphos) (porpserphos) edge (porpphos) (gpme) edge (cmp) (edoc) edge (gpme)
(cresp) edge (edoc) (etc) edge (gpme) (retc) edge (etc) (aresp) edge (cresp) (oxphos) edge (aresp)
(atpset) edge (retc) (aetc) edge (retc) (metnu) edge (aetc) (matpset) edge (atpset) (rbq) edge (breg)
(rmpot) edge (rbq) (rgf) edge (rchem) (rngf) edge (rgf) (crgf) edge (rgf) (crgf) edge (crs) (crngf) edge (rngf)
(rchem) edge (rstim) (crs) edge (rstim) (crs) edge (cp) (rrs) edge (rbp) (nrrs) edge (rrs) (nrrs) edge (nrbp)
(porrs) edge (rrs) (porrs) edge (porbp) (res) edge (rstim) (cres) edge (res) (cres) edge (crs) (rhorm) edge (res)
(ros) edge (rchem) (rlipid) edge (rchem) (cros) edge (ros) (cros) edge (crcs) (rocc) edge (ros) (roc) edge (ros)
(roc) edge (rnc) (rnc) edge (rchem) (rxs) edge (rchem) (crhs) edge (rhorm) (crhs) edge (cres) (rsh) edge (rhorm)
(rsh) edge (rlipid) (crl) edge (rlipid) (crl) edge (cros) (crocc) edge (rocc) (crocc) edge (cros) (ralk) edge (roc)
(crshs) edge (rsh) (crshs) edge (crl) (crshs) edge (crocc) (ras) edge (rbq) (rssa) edge (rbp) (ntsp) edge (elrpsp)
(ngfsp) edge (ntsp) (hmsp) edge (st) (shmsp) edge (hmsp) (tss) edge (synsig) (atss) edge (tss) (retss) edge (tss)
(tssn) edge (tss) (sigvn) edge (synsig) (rcoc) edge (ralk) (synsig) edge (ccsig) (nrsig) edge (rsig)
(cst) edge (atss) (stg) edge (cst) (mcst) edge (rtss) (rtss) edge (rssa) (nrst) edge (mcst) (rstg) edge (mcst)
(nrstg) edge (rstg) (nrstg) edge (nrst) (rsplast) edge (rssa) (rnsp) edge (rsplast) (rltnsp) edge (rnsp)
(rstnsp) edge (rnsp) (tssmst) edge (tss) (tssmst) edge (mcst) (tssbdnf) edge (tss) (tssbdnfm) edge (tssmst)
(tssbdnfm) edge (tssbdnf) (tssnm) edge (tssmst) (tssnm) edge (tssn) (rtssnm) edge (tssnm) (rtssnm) edge (rtssn)
(rtssn) edge (retss) (rtssn) edge (tssn) (crsp) edge (ishrsp) (grsp) edge (crsp) (rocc2) edge (rchem)
(rsalt) edge (rchem) (racid) edge (rchem) (crcs) edge (rchem) (crcs) edge (crs) (cracid) edge (racid)
(cracid) edge (crcs) (ccomm) edge (cp) (rsig) edge (rbp) (ccsig) edge (sig) (rccomm) edge (rcp) (rst) edge (rsig)
(rst) edge (rccomm) (porsig) edge (rsig) (porsig) edge (porbp) (nrst2) edge (rst) (nrst2) edge (nrsig)
(porst) edge (rst) (porst) edge (porsig) (gabasp) edge (ccsig) (gabasp) edge (st) (csrsp) edge (st)
(porccomm) edge (rccomm) (porccomm) edge (porcp) (nrccomm) edge (rccomm) (nrccomm) edge (nrcp) (apop) edge (pcd)
(csrspccs) edge (csrsp) (rccs) edge (ras) (elrpsp) edge (csrsp) (apsp) edge (st) (rap) edge (rpcd) (ircsp) edge (st)
(trptksp) edge (elrpsp) (rapsp) edge (rst) (nrap) edge (rap) (nrap) edge (nrpcd) (ishrsp) edge (ircsp)
(nrapsp) edge (rapsp) (nrapsp) edge (nrst2) (rpmp2) edge (rmpot) (rishrsp) edge (rst) (ipsp) edge (rpmp2)
(epsp) edge (rpmp2) (porishrsp) edge (rishrsp) (porishrsp) edge (porst) (rgrsp) edge (rishrsp)
(porgrsp) edge (rgrsp) (porgrsp) edge (porishrsp)
(ccob) edge (cp) (ccb) edge (ccob) (cco) edge (ccob) (cdeath) edge (cp) (pcd) edge (cdeath) (ndeath) edge (cdeath)
(porbp) edge (rbp) (nrbp) edge (rbp) (rcp) edge (rbp) (porcp) edge (porbp) (porcp) edge (rcp) (nrcp) edge (nrbp)
(nrcp) edge (rcp) (rccb) edge (rcp) (rcco) edge (rcp) (porccb) edge (rccb) (porccb) edge (porcp) (porcco) edge (rcco)
(porcco) edge (porcp) (rcd) edge (rcp) (rpcd) edge (rcd) (rnd) edge (rcd) (nrcd) edge (rcd) (nrcd) edge (nrcp)
(nrpcd) edge (rpcd) (nrpcd) edge (nrcd) (nap) edge (ndeath) (nap) edge (apop) (nrnd) edge (rnd) (nrnd) edge (nrcd)
(rnap) edge (rap) (rnap) edge (rnd) (nrnap) edge (rnap) (nrnap) edge (nrnd) (nrnap) edge (nrap) (cjo) edge (cco)
(cja) edge (cca) (cja) edge (cjo) (so) edge (cco) (sa) edge (cca) (sa) edge (so) (rso) edge (rcco) (rcja) edge (rcco)
(rsa) edge (rso) (porcja) edge (rcja) (porcja) edge (porcco) (porsa) edge (rsa) (rcsize) edge (rccs) (cpp) edge (cp)
(rcpp) edge (rcp) (nrcpp) edge (rcpp) (nrcpp) edge (nrcp) (porltnsp) edge (rltnsp) (crecog) edge (cp)
(sysp) edge (mop) (nsp) edge (sysp) (rstress) edge (rstim) (defr) edge (rstress) (mors) edge (rstress)
(mors) edge (mop) (rmop) edge (rbp) (pormop) edge (rmop) (pormop) edge (porbp) (nrmop) edge (rmop)
(nrmop) edge (nrbp) (fear) edge (mors) (bdr) edge (defr) (bdr) edge (behavior) (bfr) edge (bdr) (bfr) edge (fear)
(chemotaxis) edge (taxis) (rgrowth) edge (rbp) (porgrowth) edge (rgrowth) (porgrowth) edge (porbp)
(npcp) edge (cpp) (rnpcp) edge (rcpp) (nrnpcp) edge (rnpcp) (nrnpcp) edge (nrcpp) (cpo) edge (cco)
(rcpo) edge (rcco) (porcpo) edge (rcpo) (porcpo) edge (porcco) (pmbcpo) edge (cpo) (rpmbcpo) edge (rcpo)
(rcg) edge (rgrowth) (porcg) edge (rcg) (porcg) edge (porgrowth) (rdg) edge (rgrowth) (rdg) edge (rdp)
(pordg) edge (rdg) (pordg) edge (porgrowth) (pordp) edge (rdp) (pordp) edge (porbp) (rcdiff) edge (rdp)
(porcdiff) edge (rcdiff) (porcdiff) edge (pordp) (adultb) edge (behavior) (nbp) edge (npcp) (rnbp) edge (rnpcp)
(nrnbp) edge (rnbp) (nrnbp) edge (nrnpcp) (rrcpcd) edge (rpcd) (rnpd) edge (rcpo) (rnpd) edge (rcdev)
(pornpd) edge (rnpd) (recg) edge (rcg) (raxe) edge (raxg)
(cdp) edge (dp) (rext) edge (rstim) (rdp) edge (rbp) (cognition) edge (nsp) (cdiff) edge (cdp) (nrdp) edge (rdp)
(nrdp) edge (nrbp) (rmod) edge (rdp) (rmod) edge (rmop) (lom) edge (cognition) (lom) edge (behavior)
(cgrowth) edge (growth) (feed) edge (behavior) (cdev) edge (cdp) (neurog) edge (cdiff) (ccm) edge (cdp)
(nrcdiff) edge (rcdiff) (nrcdiff) edge (nrdp) (memory) edge (lom) (learning) edge (lom) (rcdev) edge (rcdiff)
(pcdcd) edge (pcd) (rnsd) edge (rmod) (dcg2) edge (cgrowth) (dcg2) edge (devgrowth) (gon) edge (neurog)
(gon) edge (cdiff) (al) edge (learning) (pornsd) edge (rnsd) (pornsd) edge (pordp) (nrcdev) edge (rcdev)
(nrcdev) edge (nrcdiff) (porcdev) edge (rcdev) (porcdev) edge (porcdiff) (nrnsd) edge (rnsd) (nrnsd) edge (nrdp)
(rneurog) edge (rnsd) (ndiff) edge (cdiff) (cpp2) edge (al) (nrneurog) edge (rneurog) (nrneurog) edge (nrnsd)
(porneurog) edge (rneurog) (porneurog) edge (pornsd) (rnd2) edge (rneurog) (rnd2) edge (rcdiff) (rcpcd) edge (pcdcd)
(axdev) edge (npd) (npg) edge (npd) (ag) edge (npg) (nrecog) edge (crecog) (porndiff) edge (rnd2)
(porndiff) edge (porneurog) (pmbcpm) edge (cpmorph) (npm) edge (pmbcpm) (ddev) edge (npd) (npe) edge (dcg2)
(dext) edge (npe) (axe) edge (npe) (raxg) edge (rnpd) (poraxg) edge (raxg) (poraxg) edge (pornpd)
(rcs) edge (raxg) (porcs) edge (rcs) (porcs) edge (poraxg)
(circ) edge (rhythm) (asd) edge (dp) (mod) edge (asd) (regen) edge (asd) (tubed) edge (asd) (sysdev) edge (asd)
(tissd) edge (asd) (msd) edge (asd) (nsd) edge (sysdev) (mtd) edge (tissd) (ssd) edge (sysdev) (rsd) edge (sysdev)
(mod2) edge (msd) (mod2) edge (aod) (epith) edge (tissd) (devgrowth) edge (growth) (cm) edge (ccm) (cm) edge (asm)
(rasm) edge (rdp) (rmtd) edge (rmod) (mcd) edge (cdiff) (rmod2) edge (rmod) (smtd) edge (mtd) (cpm) edge (ccm)
(cmid) edge (cm) (nrmtd) edge (rmtd) (rmcd) edge (rcdiff) (nrmod) edge (rmod2) (rsmtd) edge (rmtd) (smcd) edge (mcd)
(cpmorph) edge (cpm) (nrmcd) edge (rmcd) (nrmcd) edge (nrcdiff) (nrsmtd) edge (rsmtd) (nrsmtd) edge (nrmtd)
(rsmcd) edge (rmcd) (myod) edge (smcd) (mrd) edge (ndiff) (nrsmcd) edge (rsmcd) (nrsmcd) edge (nrmcd)
(rmyod) edge (rsmcd) (cmind) edge (cmid) (nrmyod) edge (rmyod) (nrmyod) edge (nrsmcd) (dgim) edge (devgrowth)
(aod) edge (asd) (aom) edge (asm) (kidd) edge (aod) (sod) edge (aod) (eyed) edge (sod) (som) edge (aom)
(mesod) edge (kidd) (ked) edge (epith) (tongued) edge (sod) (eard) edge (sod) (eyem) edge (som) (med) edge (ked)
(tbd) edge (sod) (mtd2) edge (med) (ubd) edge (mtd2)
(eol) edge (loc) (trans) edge (eol) (efc) edge (trans) (secr) edge (trans) (ost) edge (trans) (sbc) edge (efc)
(sbc) edge (secr) (oat) edge (ost) (oact) edge (ost) (cat) edge (oat) (cat) edge (oact) (nct) edge (trans)
(aat) edge (cat) (aat) edge (nct) (dat) edge (cat) (aaat) edge (aat) (amt) edge (nct) (gs) edge (dat)
(gs) edge (aaat) (gs) edge (amt) (gs) edge (sbc);
\path[part of]
(natt) edge (ge) (retc) edge (cresp) (atpset) edge (oxphos) (aetc) edge (oxphos) (metnu) edge (matpset)
(crngf) edge (crgf) (ngfsp) edge (crngf) (hmsp) edge (crhs) (shmsp) edge (crshs) (rso) edge (rssa)
(brcoc) edge (rcoc) (cstp) edge (cst) (st) edge (sig) (st) edge (ccomm) (st) edge (crs) (csrspccs) edge (ccsig)
(apsp) edge (apop) (ipsp) edge (cstp) (epsp) edge (cstp) (recg) edge (rcsize) (chemotaxis) edge (rchem)
(cca) edge (ccb) (cdev) edge (cdiff) (neurog) edge (nsd) (ndiff) edge (gon) (ndev) edge (ndiff) (ndev) edge (cdev)
(npd) edge (ndev) (npm) edge (npd) (axonogenesis) edge (axdev) (axonogenesis) edge (npm) (ag) edge (axonogenesis)
(atr) edge (axonogenesis) (axe) edge (axonogenesis) (cs) edge (axonogenesis) (npe) edge (npm)
(axonogenesis) edge (cmind) (nrecog) edge (ndev) (pcdcd) edge (cdev) (taxis) edge (rext) (sysdev) edge (mod)
(tubed) edge (mod) (asm) edge (asd) (devgrowth) edge (asd) (cpmorph) edge (cm) (mcd) edge (msd) (aom) edge (aod)
(eyed) edge (visual) (som) edge (sod) (ked) edge (kidd) (med) edge (mesod) (eyem) edge (eyed) (tbd) edge (tongued)
(ied) edge (eard) (nerved) edge (nsd) (dcg2) edge (cdev);
\path[regulates]
(rbp) edge (bp) (rrs) edge (rstim) (rge) edge (ge) (rmbp) edge (mbp) (rmmp) edge (mmp) (rbiosyn) edge (biosyn)
(rcbp) edge (cbp) (rprimp) edge (pmp) (rnbcmp) edge (nbcmp) (rpmodp) edge (pmodp) (rrnamp) edge (rnamp)
(rrnabp) edge (rnabp) (rnatt) edge (natt) (rdtt) edge (dtt) (rmp) edge (mp) (rncmp) edge (ncmp) (rcmp) edge (cmp)
(rphmp) edge (phmp) (rpcmp) edge (pcmp) (rphos) edge (phos) (rpphos) edge (pphos) (rpserphos) edge (pserphos)
(rtss) edge (tss) (mcst) edge (cst) (rstg) edge (stg) (rsig) edge (sig) (rst) edge (st) (rccomm) edge (ccomm)
(rapsp) edge (apsp) (rap) edge (apop) (rishrsp) edge (ishrsp) (rgrsp) edge (grsp) (rcp) edge (cp)
(rcd) edge (cdeath) (rnd) edge (ndeath) (rpcd) edge (pcd) (rnap) edge (nap) (rccb) edge (ccb) (rcco) edge (cco)
(rso) edge (so) (rsa) edge (sa) (rcja) edge (cja) (rmop) edge (mop) (rcpp) edge (cpp) (rnpcp) edge (npcp)
(rcpo) edge (cpo) (rpmbcpo) edge (pmbcpo) (rgrowth) edge (growth) (rcg) edge (cgrowth) (rdg) edge (devgrowth)
(rcdiff) edge (cdiff) (rnbp) edge (nbp) (rrcpcd) edge (rcpcd) (rnpd) edge (npd) (raxe) edge (axe) (rdp) edge (dp)
(rcdev) edge (cdev) (rneurog) edge (neurog) (rnd2) edge (ndiff) (raxg) edge (axonogenesis) (rcs) edge (cs)
(rnsd) edge (nsd) (rasm) edge (asm) (rmtd) edge (mtd) (rmcd) edge (mcd) (rmod2) edge (mod2) (rsmtd) edge (smtd)
(rsmcd) edge (smcd) (rmyod) edge (myod) (rmod) edge (mod) (rpmp) edge (pmetp);
\path[pos reg]
(porbp) edge (bp) (porrs) edge (rstim) (pormmp) edge (mmp) (porpmp) edge (pmetp) (porpmodp) edge (pmodp)
(pormp) edge (mp) (porncmp) edge (ncmp) (porcmp) edge (cmp) (porphmp) edge (phmp) (porpcmp) edge (pcmp)
(porphos) edge (phos) (porpphos) edge (pphos) (porpserphos) edge (pserphos) (porsig) edge (sig) (porst) edge (st)
(porccomm) edge (ccomm) (porishrsp) edge (ishrsp) (porgrsp) edge (grsp) (porcp) edge (cp) (porccb) edge (ccb)
(porcco) edge (cco) (porsa) edge (sa) (porcja) edge (cja) (pormop) edge (mop) (porgrowth) edge (growth)
(porcg) edge (cgrowth) (pordg) edge (devgrowth) (pordp) edge (dp) (porcdiff) edge (cdiff) (pornpd) edge (npd)
(porcdev) edge (cdev) (porneurog) edge (neurog) (porndiff) edge (ndiff) (poraxg) edge (axonogenesis)
(porcs) edge (cs) (pornsd) edge (nsd) (porcpo) edge (cpo);
\path[neg reg]
(nrbp) edge (bp) (nrrs) edge (rstim) (nrst) edge (cst) (nrstg) edge (stg) (nrsig) edge (sig) (nrst2) edge (st)
(nrccomm) edge (ccomm) (nrapsp) edge (apsp) (nrap) edge (apop) (nrcp) edge (cp) (nrcd) edge (cdeath)
(nrnd) edge (ndeath) (nrpcd) edge (pcd) (nrnap) edge (nap) (nrmop) edge (mop) (nrcpp) edge (cpp)
(nrnpcp) edge (npcp) (nrnbp) edge (nbp) (nrdp) edge (dp) (nrcdev) edge (cdev) (nrneurog) edge (neurog)
(nrnsd) edge (nsd) (nrmtd) edge (mtd) (nrmcd) edge (mcd) (nrmod) edge (mod2) (nrsmtd) edge (smtd)
(nrsmcd) edge (smcd) (nrmyod) edge (myod) (nrcdiff) edge (cdiff);
\end{pgfonlayer}
\end{tikzpicture}
\end{document}
